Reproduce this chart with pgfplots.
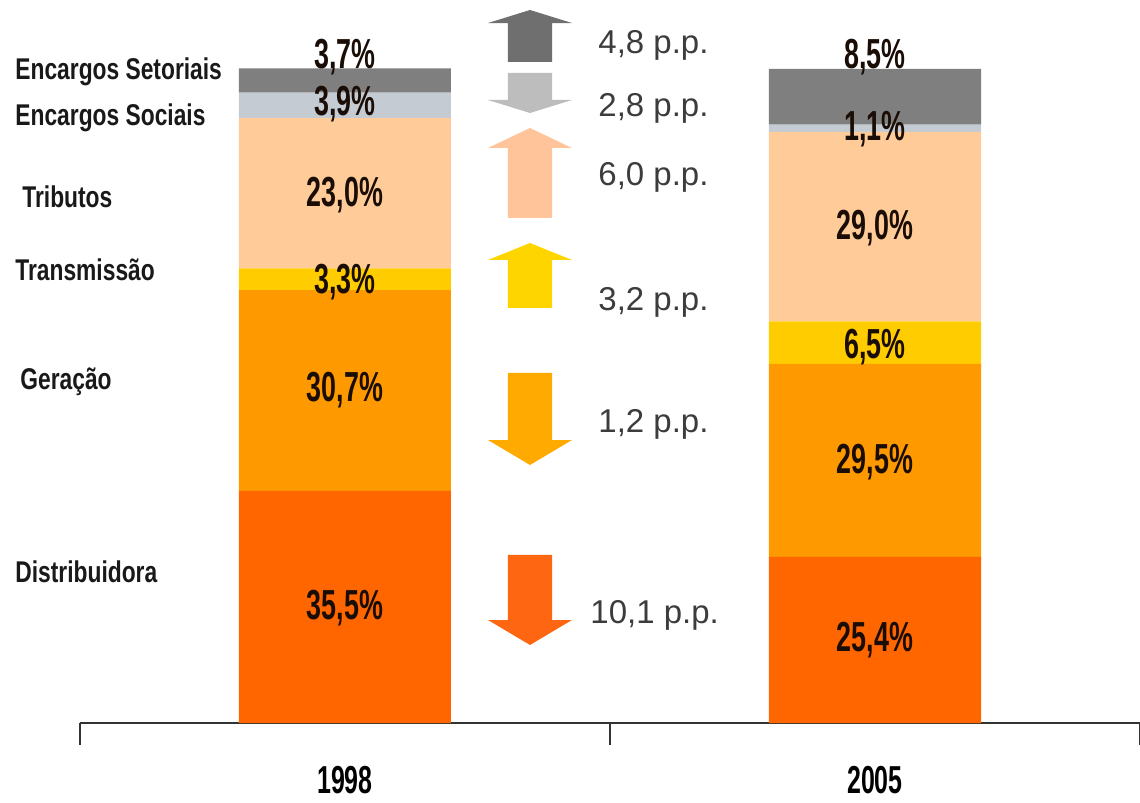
\documentclass[border=0pt]{standalone}
\usepackage{fontspec}
\setmainfont{Liberation Sans}
\newfontfamily\condb[FakeStretch=0.64]{Liberation Sans}
\newfontfamily\catf[FakeStretch=0.76]{Liberation Sans}
\usepackage{pgfplots}
\pgfplotsset{compat=1.18}
\definecolor{cDist}{HTML}{FF6600}
\definecolor{cGer}{HTML}{FF9900}
\definecolor{cTra}{HTML}{FFCC00}
\definecolor{cTri}{HTML}{FFCC99}
\definecolor{cSoc}{HTML}{C5CBD3}
\definecolor{cSet}{HTML}{7F7F7F}
\definecolor{aSet}{HTML}{6F6F6F}
\definecolor{aSoc}{HTML}{BDBDBD}
\definecolor{aTri}{HTML}{FFC49A}
\definecolor{aTra}{HTML}{FFD500}
\definecolor{aGer}{HTML}{FFAA00}
\definecolor{aDis}{HTML}{FF6611}
\definecolor{ppgray}{HTML}{3C3C3C}
\definecolor{valc}{HTML}{1A0D05}
\tikzset{
  pp/.style={anchor=west, inner xsep=0pt, text=ppgray, font=\fontsize{16.5}{19}\selectfont},
  cat/.style={anchor=west, inner xsep=0pt, text=black!90, font=\catf\bfseries\fontsize{15}{17}\selectfont},
  val/.style={anchor=center, text=valc, font=\condb\bfseries\fontsize{21}{24}\selectfont},
}
\begin{document}
\begin{tikzpicture}
\begin{axis}[
  scale only axis, width=530pt, height=361.5pt,
  xmin=0, xmax=2, ymin=0, ymax=110.55,
  clip=false,
  ybar stacked, bar width=106pt,
  axis x line=bottom, axis y line=none,
  x axis line style={-, draw=black!80, line width=0.8pt},
  xtick={0.5,1.5}, xticklabels={1998,2005},
  major tick length=0pt, tick align=outside,
  xticklabel style={font=\condb\bfseries\fontsize{19.5}{22}\selectfont, anchor=center, yshift=-28.5pt},
  extra x ticks={0,1,2}, extra x tick labels={},
  extra x tick style={major tick length=11pt, tick style={draw=black!80, line width=0.8pt}},
]
\addplot[fill=cDist, draw=none] coordinates {(0.5,35.5) (1.5,25.4)};
\addplot[fill=cGer, draw=none] coordinates {(0.5,30.7) (1.5,29.5)};
\addplot[fill=cTra, draw=none] coordinates {(0.5,3.3) (1.5,6.5)};
\addplot[fill=cTri, draw=none] coordinates {(0.5,23.0) (1.5,29.0)};
\addplot[fill=cSoc, draw=none] coordinates {(0.5,3.9) (1.5,1.1)};
\addplot[fill=cSet, draw=none] coordinates {(0.5,3.7) (1.5,8.5)};

\fill[aSet] (axis cs:0.8075,101.07) -- (axis cs:0.8075,107.03) -- (axis cs:0.7698,107.03) -- (axis cs:0.8491,109.02) -- (axis cs:0.9283,107.03) -- (axis cs:0.8906,107.03) -- (axis cs:0.8906,101.07) -- cycle;
\fill[aSoc] (axis cs:0.8075,99.39) -- (axis cs:0.8075,95.26) -- (axis cs:0.7698,95.26) -- (axis cs:0.8491,93.27) -- (axis cs:0.9283,95.26) -- (axis cs:0.8906,95.26) -- (axis cs:0.8906,99.39) -- cycle;
\fill[aTri] (axis cs:0.8075,77.22) -- (axis cs:0.8075,87.92) -- (axis cs:0.7698,87.92) -- (axis cs:0.8491,90.98) -- (axis cs:0.9283,87.92) -- (axis cs:0.8906,87.92) -- (axis cs:0.8906,77.22) -- cycle;
\fill[aTra] (axis cs:0.8075,63.46) -- (axis cs:0.8075,70.80) -- (axis cs:0.7698,70.80) -- (axis cs:0.8491,73.39) -- (axis cs:0.9283,70.80) -- (axis cs:0.8906,70.80) -- (axis cs:0.8906,63.46) -- cycle;
\fill[aGer] (axis cs:0.8075,53.52) -- (axis cs:0.8075,43.27) -- (axis cs:0.7698,43.27) -- (axis cs:0.8491,39.45) -- (axis cs:0.9283,43.27) -- (axis cs:0.8906,43.27) -- (axis cs:0.8906,53.52) -- cycle;
\fill[aDis] (axis cs:0.8075,25.69) -- (axis cs:0.8075,15.75) -- (axis cs:0.7698,15.75) -- (axis cs:0.8491,11.93) -- (axis cs:0.9283,15.75) -- (axis cs:0.8906,15.75) -- (axis cs:0.8906,25.69) -- cycle;

\node[pp] at (axis cs:0.9774,103.67) {4,8 p.p.};
\node[pp] at (axis cs:0.9774,94.04) {2,8 p.p.};
\node[pp] at (axis cs:0.9774,83.49) {6,0 p.p.};
\node[pp] at (axis cs:0.9774,64.37) {3,2 p.p.};
\node[pp] at (axis cs:0.9774,45.72) {1,2 p.p.};
\node[pp] at (axis cs:0.9623,16.51) {10,1 p.p.};

\node[cat] at (axis cs:-0.1226,99.54) {Encargos Setoriais};
\node[cat] at (axis cs:-0.1226,92.51) {Encargos Sociais};
\node[cat] at (axis cs:-0.1094,80.43) {Tributos};
\node[cat] at (axis cs:-0.1226,69.27) {Transmissão};
\node[cat] at (axis cs:-0.1132,52.14) {Geração};
\node[cat] at (axis cs:-0.1226,23.09) {Distribuidora};

\coordinate (a1) at (axis cs:0.5,101.83);
\coordinate (a2) at (axis cs:0.5,94.65);
\coordinate (a3) at (axis cs:0.5,80.73);
\coordinate (a4) at (axis cs:0.5,67.43);
\coordinate (a5) at (axis cs:0.5,50.92);
\coordinate (a6) at (axis cs:0.5,17.58);
\coordinate (b1) at (axis cs:1.5,101.83);
\coordinate (b2) at (axis cs:1.5,90.83);
\coordinate (b3) at (axis cs:1.5,75.69);
\coordinate (b4) at (axis cs:1.5,57.49);
\coordinate (b5) at (axis cs:1.5,39.91);
\coordinate (b6) at (axis cs:1.5,12.69);

\coordinate (bl) at (axis cs:-0.1509,-12.08);
\coordinate (tr) at (axis cs:2,110.55);
\end{axis}
\node[val] at (a1) {3,7\%};
\node[val] at (a2) {3,9\%};
\node[val] at (a3) {23,0\%};
\node[val] at (a4) {3,3\%};
\node[val] at (a5) {30,7\%};
\node[val] at (a6) {35,5\%};
\node[val] at (b1) {8,5\%};
\node[val] at (b2) {1,1\%};
\node[val] at (b3) {29,0\%};
\node[val] at (b4) {6,5\%};
\node[val] at (b5) {29,5\%};
\node[val] at (b6) {25,4\%};
\pgfresetboundingbox
\path (bl) rectangle (tr);
\end{tikzpicture}
\end{document}
